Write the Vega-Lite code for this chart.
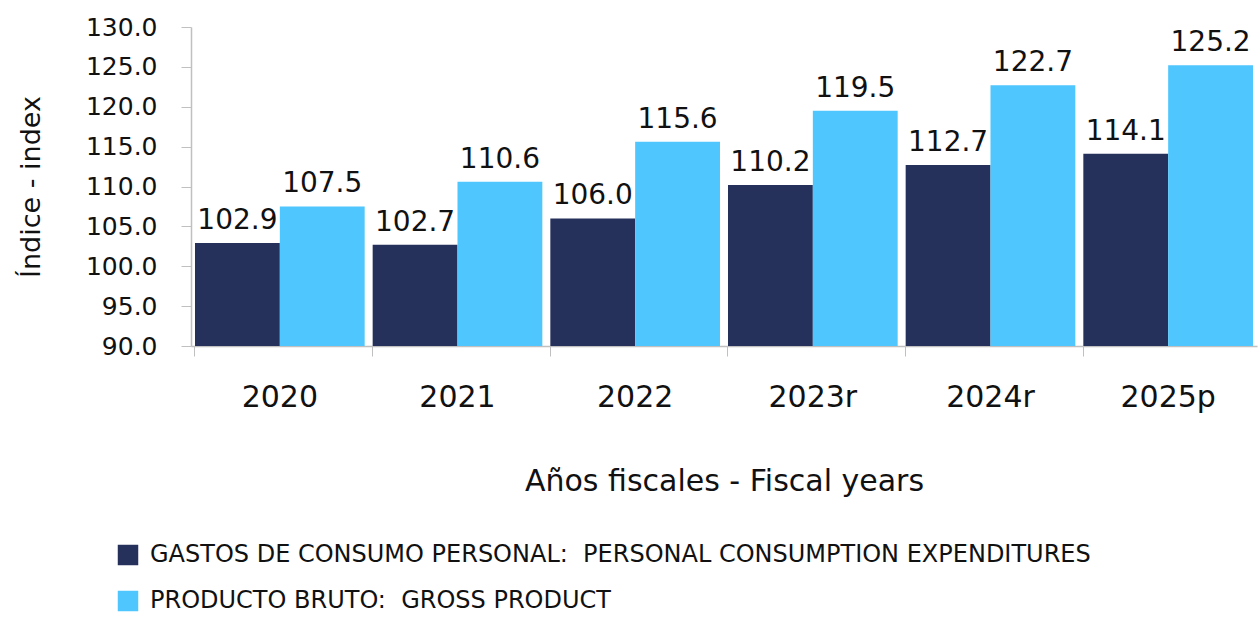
{
  "$schema": "https://vega.github.io/schema/vega-lite/v6.json",
  "autosize": {"type": "none"},
  "width": 1066,
  "height": 319,
  "padding": {"left": 191, "top": 27, "right": 2, "bottom": 271},
  "background": "white",
  "config": {
    "font": "DejaVu Sans",
    "view": {"stroke": null}
  },
  "data": {
    "values": [
      {"year": "2020", "serie": "GASTOS DE CONSUMO PERSONAL:\u00a0 PERSONAL CONSUMPTION EXPENDITURES", "k": 1, "value": 102.9},
      {"year": "2020", "serie": "PRODUCTO BRUTO:\u00a0 GROSS PRODUCT", "k": 2, "value": 107.5},
      {"year": "2021", "serie": "GASTOS DE CONSUMO PERSONAL:\u00a0 PERSONAL CONSUMPTION EXPENDITURES", "k": 1, "value": 102.7},
      {"year": "2021", "serie": "PRODUCTO BRUTO:\u00a0 GROSS PRODUCT", "k": 2, "value": 110.6},
      {"year": "2022", "serie": "GASTOS DE CONSUMO PERSONAL:\u00a0 PERSONAL CONSUMPTION EXPENDITURES", "k": 1, "value": 106.0},
      {"year": "2022", "serie": "PRODUCTO BRUTO:\u00a0 GROSS PRODUCT", "k": 2, "value": 115.6},
      {"year": "2023r", "serie": "GASTOS DE CONSUMO PERSONAL:\u00a0 PERSONAL CONSUMPTION EXPENDITURES", "k": 1, "value": 110.2},
      {"year": "2023r", "serie": "PRODUCTO BRUTO:\u00a0 GROSS PRODUCT", "k": 2, "value": 119.5},
      {"year": "2024r", "serie": "GASTOS DE CONSUMO PERSONAL:\u00a0 PERSONAL CONSUMPTION EXPENDITURES", "k": 1, "value": 112.7},
      {"year": "2024r", "serie": "PRODUCTO BRUTO:\u00a0 GROSS PRODUCT", "k": 2, "value": 122.7},
      {"year": "2025p", "serie": "GASTOS DE CONSUMO PERSONAL:\u00a0 PERSONAL CONSUMPTION EXPENDITURES", "k": 1, "value": 114.1},
      {"year": "2025p", "serie": "PRODUCTO BRUTO:\u00a0 GROSS PRODUCT", "k": 2, "value": 125.2}
    ]
  },
  "encoding": {
    "x": {
      "field": "year",
      "type": "nominal",
      "sort": null,
      "scale": {"paddingInner": 0.045, "paddingOuter": 0.0225},
      "axis": {
        "title": "Años fiscales - Fiscal years",
        "titleFontSize": 30,
        "titleFontWeight": "normal",
        "titleColor": "#111111",
        "titlePadding": 54,
        "labelFontSize": 30,
        "labelColor": "#111111",
        "labelAngle": 0,
        "labelPadding": 26,
        "bandPosition": 0,
        "tickSize": 10,
        "tickColor": "#c0c0c0",
        "domainColor": "#c0c0c0",
        "domainWidth": 1.5,
        "grid": false
      }
    },
    "xOffset": {"field": "k", "type": "ordinal", "scale": {"paddingInner": 0}},
    "y": {
      "field": "value",
      "type": "quantitative",
      "scale": {"domain": [90, 130], "zero": false, "nice": false},
      "axis": {
        "title": "Índice - index",
        "titleFontSize": 27,
        "titleFontWeight": "normal",
        "titleColor": "#111111",
        "titlePadding": 40,
        "values": [90, 95, 100, 105, 110, 115, 120, 125, 130],
        "format": ".1f",
        "labelFontSize": 25,
        "labelColor": "#111111",
        "labelPadding": 24,
        "tickSize": 10,
        "tickColor": "#c0c0c0",
        "domainColor": "#c0c0c0",
        "domainWidth": 1.5,
        "grid": false
      }
    }
  },
  "layer": [
    {
      "mark": {"type": "bar", "clip": true},
      "encoding": {
        "color": {
          "field": "serie",
          "type": "nominal",
          "sort": null,
          "scale": {"range": ["#25305B", "#4FC6FD"]},
          "legend": {
            "title": null,
            "orient": "none",
            "legendX": -75,
            "legendY": 516,
            "direction": "vertical",
            "symbolType": "square",
            "symbolSize": 420,
            "symbolStrokeWidth": 0,
            "labelFontSize": 24,
            "labelColor": "#111111",
            "labelLimit": 1200,
            "labelOffset": 10,
            "rowPadding": 22
          }
        }
      }
    },
    {
      "mark": {"type": "text", "baseline": "bottom", "dy": -8, "fontSize": 28, "color": "#111111"},
      "encoding": {
        "text": {"field": "value", "type": "quantitative", "format": ".1f"}
      }
    }
  ]
}
